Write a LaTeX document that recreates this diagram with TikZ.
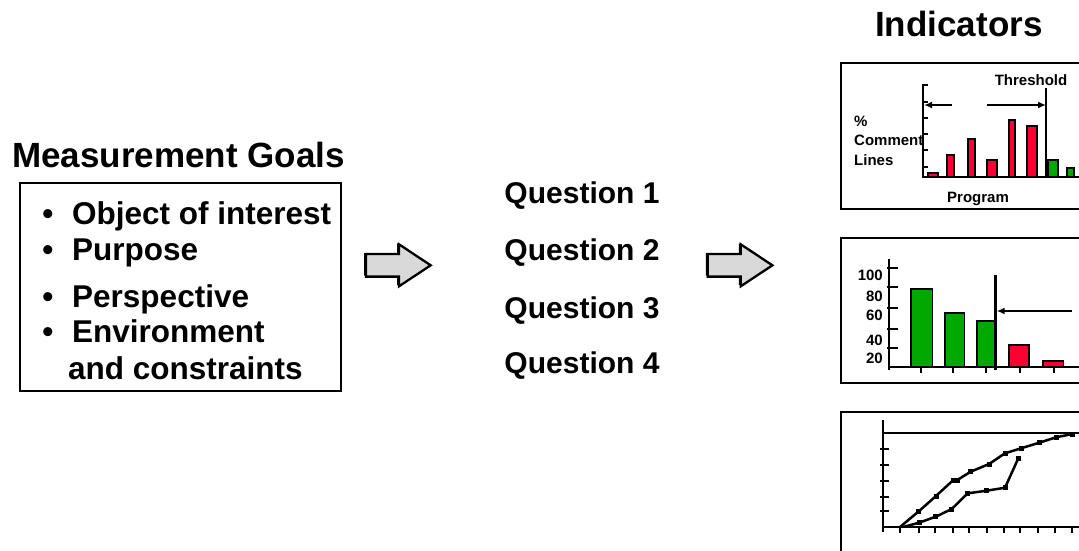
\documentclass[tikz,border=0pt]{standalone}
\usepackage{fontspec}
\setmainfont{Liberation Sans}
\usepackage{xcolor}
\definecolor{barRed}{RGB}{255,0,51}
\definecolor{barGreen}{RGB}{0,168,0}
\definecolor{arrowFill}{RGB}{217,217,217}
\usepackage{tikz}
\usetikzlibrary{arrows.meta,positioning,calc}
\tikzstyle{bigtitle}=[inner sep=0pt, font=\fontsize{35}{41}\selectfont\bfseries]
\tikzstyle{item}=[inner sep=0pt, font=\fontsize{31.5}{37}\selectfont\bfseries]
\tikzstyle{question}=[inner sep=0pt, font=\fontsize{30}{36}\selectfont\bfseries]
\tikzstyle{lbl}=[inner sep=0pt, font=\fontsize{15}{18}\selectfont\bfseries]
\tikzstyle{frame}=[draw, line width=2.5pt]
\tikzstyle{axis}=[line width=2.5pt]
\tikzstyle{bar}=[draw, line width=1.6pt]
\tikzstyle{pointer}=[line width=2pt, -{Latex[length=8pt,width=7pt]}]
\tikzstyle{fatarrow}=[draw, line width=2.3pt, fill=arrowFill, line join=miter]
\tikzstyle{curve}=[line width=2.5pt]
\tikzstyle{sq}=[fill, minimum size=5pt, inner sep=0pt]

\begin{document}
\begin{tikzpicture}[x=1pt,y=-1pt]
  \useasboundingbox (0,0) rectangle (1079,550);
  \clip (0,0) rectangle (1079,550);
  % goals
  \node[bigtitle, anchor=base west] (goals) at (12,167) {Measurement Goals};
  \node[draw, line width=2pt, minimum width=321pt, minimum height=208pt] (goalbox) at (180.5,287) {};
  \foreach \n/\txt/\y in {obj/Object of interest/224,purp/Purpose/260,persp/Perspective/307,env/Environment/342}{
    \node[item, anchor=base] (dot\n) at (48,\y) {•};
    \node[item, anchor=base west] (\n) at (72,\y) {\txt};
  }
  \node[item, anchor=base west] (constr) at (68,379) {and constraints};
  % block arrows
  \foreach \x in {366,707.7}{
    \fill[shift={(\x-1.8,264.3)}] (0,-11.3) -- (33,-11.3) -- (33,-21) -- (64.7,0) -- (33,21) -- (33,11.3) -- (0,11.3) -- cycle;
    \draw[fatarrow, shift={(\x,265.3)}] (0,-11.3) -- (33,-11.3) -- (33,-21) -- (64.7,0) -- (33,21) -- (33,11.3) -- (0,11.3) -- cycle;
  }
  % questions
  \foreach \i/\y in {1/203,2/260,3/318,4/373}
    \node[question, anchor=base] (q\i) at (582,\y) {Question \i};
  % indicators
  \node[bigtitle, anchor=base west] (ind) at (875,36) {Indicators};
  % chart 1
  \draw[frame] (841,63) rectangle (1100,209);
  \draw[axis] (928,85) -- (923,85) -- (923,177) -- (1100,177);
  \foreach \y in {102,118,134,150,167} \draw[axis] (923,\y) -- (928,\y);
  \foreach \l/\r/\t in {928/938/173,947/954/155,968/975/139,987/997/160,1009/1015/120,1027/1037/126}
    \draw[bar, fill=barRed] (\l,177) rectangle (\r,\t);
  \foreach \l/\r/\t in {1048/1058/160,1067/1074/168}
    \draw[bar, fill=barGreen] (\l,177) rectangle (\r,\t);
  \draw[axis] (1046,88) -- (1046,177);
  \coordinate (lowEnd) at (924,105);
  \coordinate (thrEnd) at (1046,105);
  \draw[pointer] (951.7,105) -- (lowEnd);
  \draw[pointer] (986.7,105) -- (thrEnd);
  \node[lbl, anchor=base] (thr) at (1031,85) {Threshold};
  \node[lbl, anchor=base west] (pct) at (854,126) {\%};
  \node[lbl, anchor=base west] (cmt) at (854,145) {Comment};
  \node[lbl, anchor=base west] (lines) at (854,165) {Lines};
  \node[lbl, anchor=base] (prog) at (978,202.7) {Program};
  % chart 2
  \draw[frame] (841,238) rectangle (1100,383);
  \draw[axis] (889,259) -- (889,370);
  \draw[axis] (889,367) -- (1100,367);
  \foreach \y in {268,287,308,329,348} \draw[axis] (887,\y) -- (898,\y);
  \foreach \x in {921,953,986,1020,1054} \draw[axis] (\x,367) -- (\x,373);
  \foreach \l/\r/\t in {910.7/932.3/289,945/964.3/312.7,976.7/995.7/320.7}
    \draw[bar, fill=barGreen] (\l,367) rectangle (\r,\t);
  \foreach \l/\r/\t in {1009/1029/345,1042.7/1063.3/360.7}
    \draw[bar, fill=barRed] (\l,367) rectangle (\r,\t);
  \draw[axis] (995.7,275) -- (995.7,370);
  \coordinate (cutEnd) at (996.7,311);
  \draw[pointer] (1071.7,311) -- (cutEnd);
  \foreach \v/\y in {100/280.7,80/301.7,60/320.7,40/345,20/363.3}
    \node[lbl, anchor=base east] (v\v) at (883,\y) {\v};
  % chart 3
  \draw[frame] (841,412) rectangle (1100,600);
  \draw[axis] (883,420) -- (883,532);
  \draw[axis] (883,433) -- (1100,433);
  \draw[axis] (883,527) -- (1100,527);
  \foreach \y in {449,465,481,497,511} \draw[axis] (880,\y) -- (889,\y);
  \foreach \x in {900,919,935,953,969,987,1004,1020,1038,1055,1072} \draw[axis] (\x,527) -- (\x,533);
  \draw[curve] (900,527) -- (918.3,511.7) -- (936,496) -- (953.3,480) -- (957.3,480) -- (970.7,471.7) -- (989,464) -- (1005,453.3) -- (1021,448.3) -- (1039.3,442.7) -- (1056,437.3) -- (1072.3,434);
  \draw[curve] (903.3,527) -- (919,522.7) -- (935.7,516.7) -- (951.7,509) -- (967.7,493.3) -- (986.7,490.7) -- (1005,487.7) -- (1018.3,458.3);
  \foreach \px/\py [count=\k] in {918.3/511.7,936/496,953.3/480,957.3/480,970.7/471.7,989/464,1005/453.3,1021/448.3,1039.3/442.7,1056/437.3,1072.3/434,919/522.7,935.7/516.7,951.7/509,967.7/493.3,986.7/490.7,1005/487.7,1018.3/458.3}
    \node[sq] (pt\k) at (\px,\py) {};
\end{tikzpicture}
\end{document}
